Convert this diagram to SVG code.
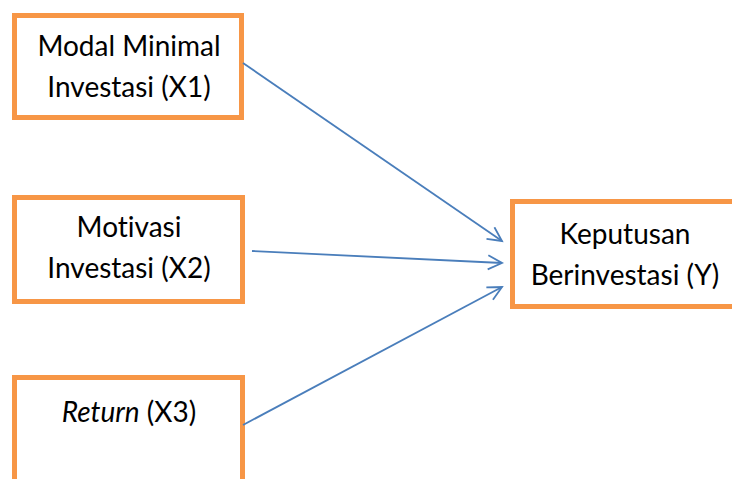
<svg xmlns="http://www.w3.org/2000/svg" width="732" height="479" viewBox="0 0 732 479">
<style>
.box{fill:#fff;stroke:#f79646;stroke-width:5}
.t{font-family:Lato,"Liberation Sans",sans-serif;font-size:28px;fill:#000;text-anchor:middle;font-variant-ligatures:none}
.c{stroke:#4a7ebb;stroke-width:1.8;fill:none}
</style>
<defs>
<marker id="ah" markerWidth="18" markerHeight="18" refX="15" refY="8" orient="auto" markerUnits="userSpaceOnUse">
<path d="M1,1 L15,8 L1,15" fill="none" stroke="#4a7ebb" stroke-width="1.8"/>
</marker>
</defs>
<rect width="732" height="479" fill="#fff"/>
<g id="x1"><rect class="box" x="14.5" y="15.5" width="227" height="102"/>
<text class="t" x="129" y="56">Modal Minimal</text>
<text class="t" x="129" y="97">Investasi (X1)</text></g>
<g id="x2"><rect class="box" x="14.5" y="197.5" width="228" height="104"/>
<text class="t" x="129" y="237">Motivasi</text>
<text class="t" x="129" y="278">Investasi (X2)</text></g>
<g id="x3"><rect class="box" x="14.5" y="377.5" width="228" height="110"/>
<text class="t" x="129" y="422"><tspan font-style="italic">Return</tspan> (X3)</text></g>
<g id="y"><rect class="box" x="512.5" y="201.5" width="230" height="105"/>
<text class="t" x="625" y="244">Keputusan</text>
<text class="t" x="625" y="285">Berinvestasi (Y)</text></g>
<g id="connectors">
<line class="c" x1="243" y1="63" x2="502" y2="241" marker-end="url(#ah)"/>
<line class="c" x1="252" y1="251" x2="502" y2="263" marker-end="url(#ah)"/>
<line class="c" x1="243" y1="425" x2="502" y2="287" marker-end="url(#ah)"/>
</g>
</svg>
